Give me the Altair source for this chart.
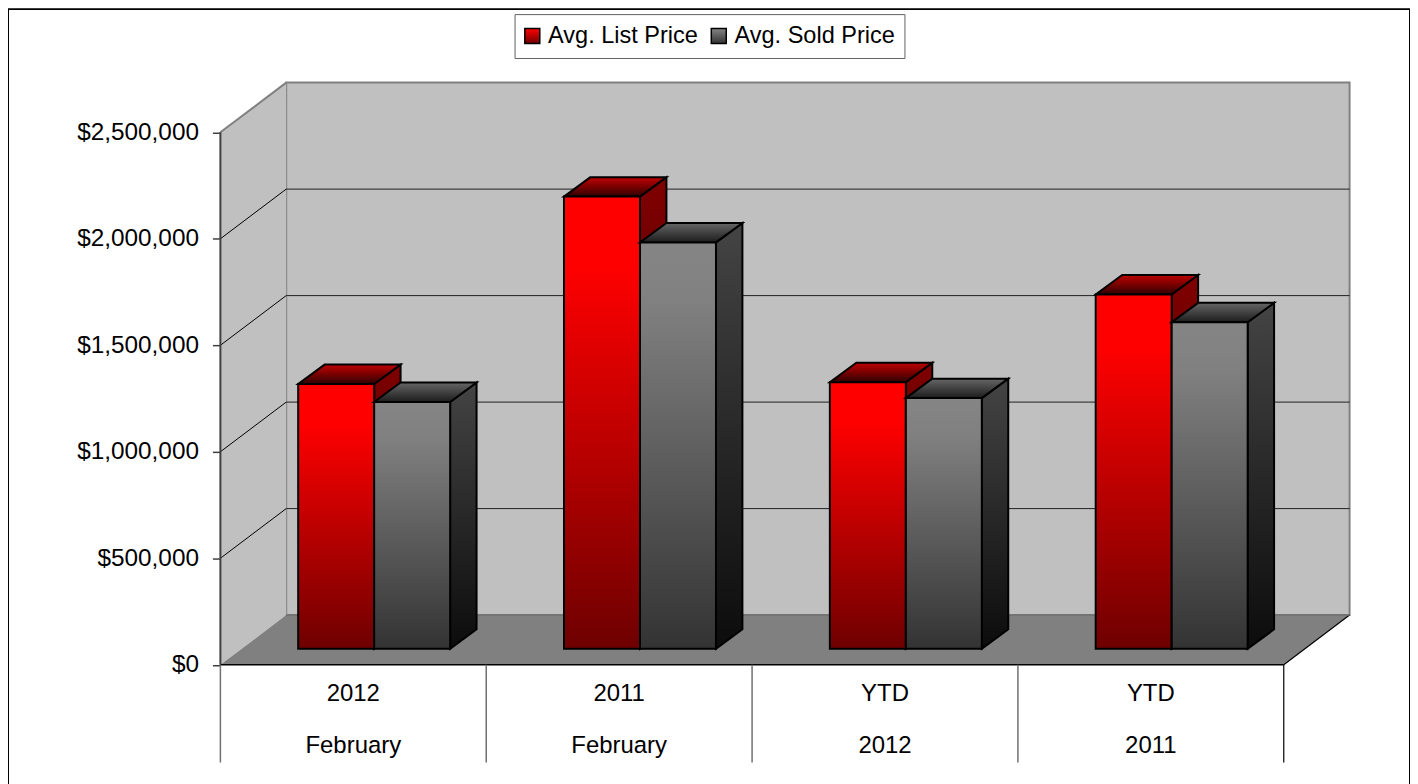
import altair as alt
import pandas as pd

# --- values ---
period_labels = ["2012", "2011", "YTD", "YTD"]
group_labels = ["February", "February", "2012", "2011"]
list_price = [1243000, 2123000, 1252000, 1664000]
sold_price = [1159000, 1908000, 1177000, 1533000]
y_ticks = [0, 500000, 1000000, 1500000, 2000000, 2500000]
series_names = ["Avg. List Price", "Avg. Sold Price"]

# --- geometry of the pseudo-3D projection, in scale units ---
W, H = 1406, 790
PX_PER_CAT = 266.6          # px per category on the front plane
PX_PER_VAL = 213.6 / 1e6    # px per dollar
ORIGIN_X, ORIGIN_Y = 213.0, 657.5  # zero point inside the view
X_DOM = [-ORIGIN_X / PX_PER_CAT, (W - ORIGIN_X) / PX_PER_CAT]
Y_DOM = [(ORIGIN_Y - H) / PX_PER_VAL, ORIGIN_Y / PX_PER_VAL]
DEPTH_X = 66 / PX_PER_CAT
DEPTH_Y = 49.8 / PX_PER_VAL
BAR_DX = 26.5 / PX_PER_CAT
BAR_DY = 19.5 / PX_PER_VAL
BAR_LIFT = 16 / PX_PER_VAL
BAR_START = 78.0 / PX_PER_CAT
BAR_W = 76.2 / PX_PER_CAT
TOP = 2500000
N = len(period_labels)
LABEL_Y1 = -29 / PX_PER_VAL
LABEL_Y2 = -81 / PX_PER_VAL
SEP_BOTTOM = -98 / PX_PER_VAL

xs = alt.Scale(domain=X_DOM, nice=False, zero=False)
ys = alt.Scale(domain=Y_DOM, nice=False, zero=False)
FONT = "Liberation Sans"
Y_AXIS = alt.Axis(
    values=y_ticks, format="$,.0f", title=None, orient="left",
    offset=-ORIGIN_X, domain=False, grid=False, ticks=True,
    tickSize=8, tickColor="#404040", tickWidth=1.5, labelPadding=14,
    labelFont=FONT, labelFontSize=24.4, labelColor="#000000")
NOX = alt.X("x:Q", scale=xs, axis=None)
NOY = alt.Y("y:Q", scale=ys, axis=Y_AXIS)


def grad(stops, horizontal=False):
    return {
        "gradient": "linear", "x1": 0, "y1": 0,
        "x2": 1 if horizontal else 0, "y2": 0 if horizontal else 1,
        "stops": [{"offset": o, "color": c} for o, c in stops],
    }


FRONT = {
    0: grad([(0, "#ff0000"), (0.15, "#ff0000"), (1, "#6e0000")]),
    1: grad([(0, "#858585"), (0.15, "#808080"), (1, "#333333")]),
}
SIDE = {
    0: grad([(0, "#800000"), (1, "#280000")]),
    1: grad([(0, "#444444"), (1, "#0c0c0c")]),
}
TOPFACE = {
    0: grad([(0, "#c00000"), (1, "#300000")]),
    1: grad([(0, "#666666"), (1, "#1c1c1c")]),
}


def js_grad(a, b):
    return ("{gradient:'linear',x1:0,y1:0,x2:0,y2:1,stops:["
            f"{{offset:0,color:'{a}'}},{{offset:1,color:'{b}'}}]}}")


def segs(rows):
    out = []
    for i, (x0, y0, x1, y1) in enumerate(rows):
        out += [{"id": i, "x": x0, "y": y0}, {"id": i, "x": x1, "y": y1}]
    return pd.DataFrame(out)


def polyline(rows, color, width):
    return alt.Chart(segs(rows)).mark_line(color=color, strokeWidth=width).encode(
        x=NOX, y=NOY, detail="id:N", order=alt.Order("x:Q"))


layers = []

# Back wall
layers.append(
    alt.Chart(pd.DataFrame({"x": [DEPTH_X], "x2": [N + DEPTH_X], "y": [DEPTH_Y], "y2": [TOP + DEPTH_Y]}))
    .mark_rect(fill="#c0c0c0", stroke="#808080", strokeWidth=2)
    .encode(x=NOX, x2="x2:Q", y=NOY, y2="y2:Q")
)
# Left wall
layers.append(
    alt.Chart(pd.DataFrame({"x": [0, DEPTH_X], "y": [TOP, TOP + DEPTH_Y], "y2": [0, DEPTH_Y]}))
    .mark_area(fill="#c0c0c0", orient="vertical")
    .encode(x=NOX, y=NOY, y2="y2:Q")
)
# Wall gridlines
grid_vals = [v for v in y_ticks if 0 < v < TOP]
layers.append(polyline([(0, v, DEPTH_X, v + DEPTH_Y) for v in grid_vals], "#000000", 1))
layers.append(polyline([(DEPTH_X, v + DEPTH_Y, N + DEPTH_X, v + DEPTH_Y) for v in grid_vals], "#202020", 1))
layers.append(polyline([(0, TOP, DEPTH_X, TOP + DEPTH_Y)], "#808080", 2))
# Floor
layers.append(
    alt.Chart(pd.DataFrame({"y": [0, DEPTH_Y], "x": [0, DEPTH_X], "x2": [N, N + DEPTH_X]}))
    .mark_area(fill="#808080", orient="horizontal")
    .encode(x=NOX, x2="x2:Q", y=NOY)
)
layers.append(polyline([(N, 0, N + DEPTH_X, DEPTH_Y)], "#000000", 1.2))
layers.append(polyline([(0, 0, 0, TOP)], "#404040", 2))
layers.append(polyline([(DEPTH_X, DEPTH_Y, N + DEPTH_X, DEPTH_Y)], "#707070", 1.5))

# Bars
for s, vals in enumerate([list_price, sold_price]):
    side, top, front = [], [], []
    for k, v in enumerate(vals):
        xl = k + BAR_START + s * BAR_W
        xr = xl + BAR_W
        yt = v + BAR_LIFT
        yb = BAR_LIFT
        side += [{"id": k, "x": xr, "y": yt, "y2": yb},
                 {"id": k, "x": xr + BAR_DX, "y": yt + BAR_DY, "y2": yb + BAR_DY}]
        top += [{"id": k, "y": yt, "x": xl, "x2": xr},
                {"id": k, "y": yt + BAR_DY, "x": xl + BAR_DX, "x2": xr + BAR_DX}]
        front.append({"x": xl, "x2": xr, "y": yt, "y2": yb})
    layers.append(
        alt.Chart(pd.DataFrame(side))
        .mark_area(fill=SIDE[s], stroke="#000000", strokeWidth=2, strokeJoin="miter", orient="vertical")
        .encode(x=NOX, y=NOY, y2="y2:Q", detail="id:N")
    )
    layers.append(
        alt.Chart(pd.DataFrame(top))
        .mark_area(fill=TOPFACE[s], stroke="#000000", strokeWidth=2, strokeJoin="miter", orient="horizontal")
        .encode(x=NOX, x2="x2:Q", y=NOY, detail="id:N")
    )
    layers.append(
        alt.Chart(pd.DataFrame(front))
        .mark_rect(fill=FRONT[s], stroke="#000000", strokeWidth=2)
        .encode(x=NOX, x2="x2:Q", y=NOY, y2="y2:Q")
    )

# Category axis lines
layers.append(polyline([(0, 0, N, 0)], "#000000", 1.5))
layers.append(polyline([(k, 0, k, SEP_BOTTOM) for k in range(N)], "#707070", 1.5))
layers.append(polyline([(N, 0, N, SEP_BOTTOM)], "#000000", 1.2))

# Category labels (two levels)
lab = pd.DataFrame({
    "x": [k + 0.5 for k in range(N)] * 2,
    "y": [LABEL_Y1] * N + [LABEL_Y2] * N,
    "t": period_labels + group_labels,
})
layers.append(
    alt.Chart(lab).mark_text(font=FONT, fontSize=24, color="#000000", baseline="middle", align="center")
    .encode(x=NOX, y=NOY, text="t:N")
)

# Legend
layers.append(
    alt.Chart(pd.DataFrame({"s": series_names, "x": [0.0, 0.0], "y": [0.0, 0.0]}))
    .mark_square(size=0, opacity=1)
    .encode(
        x=NOX, y=NOY,
        color=alt.Color("s:N", sort=series_names, scale=alt.Scale(
            domain=series_names,
            range=[{"expr": js_grad("#ff0000", "#700000")}, {"expr": js_grad("#858585", "#333333")}]),
            legend=alt.Legend(
                title=None, orient="none", legendX=508, legendY=5.0, direction="horizontal",
                symbolType="square", symbolSize=225, symbolStrokeColor="#000000", symbolStrokeWidth=1.5,
                symbolOffset=-3,
                labelFont=FONT, labelFontSize=23.6, labelColor="#000000", labelOffset=4,
                columnPadding=12, padding=9, clipHeight=26, fillColor="#ffffff", strokeColor="#606060",
                symbolOpacity=1, labelLimit=300)),
    )
)

chart = (
    alt.layer(*layers)
    .properties(width=W, height=H, background="#ffffff", padding=0,
                autosize=alt.AutoSizeParams(type="none", contains="padding"))
    .configure_view(stroke="#000000", strokeWidth=2)
)
chart.save("out.html", embed_options={"renderer": "svg", "actions": False})
